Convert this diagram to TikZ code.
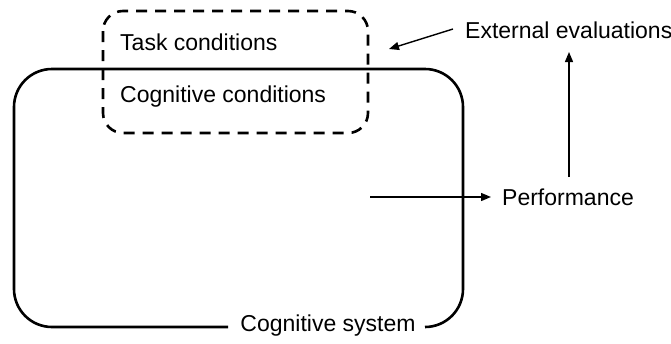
\documentclass[tikz,border=0pt]{standalone}
\usepackage{fontspec}
\setmainfont{Liberation Sans}
\usetikzlibrary{arrows.meta}
\begin{document}
\begin{tikzpicture}[x=1pt,y=-1pt,
  lbl/.style={inner sep=0pt,font=\fontsize{23}{27}\selectfont},
  arr/.style={line width=1.4pt,-{Triangle[length=10pt,width=8pt]}},
  sysbox/.style={line width=2.6pt,rounded corners=38pt},
  condbox/.style={line width=2.6pt,rounded corners=20pt,dash pattern=on 11pt off 8pt}]
\useasboundingbox (0,0) rectangle (671,343);
\draw[sysbox] (228,327) -- (14,327) -- (14,69) -- (463,69) -- (463,327) -- (425,327);
\draw[condbox] (103,11) rectangle (368,133);
\node[lbl,anchor=west] (task) at (120,42) {Task conditions};
\node[lbl,anchor=west] (cogc) at (120,97) {Cognitive conditions};
\node[lbl,anchor=west] (ext) at (465,30) {External evaluations};
\node[lbl,anchor=west] (perf) at (502,197) {Performance};
\node[lbl] (sys) at (328,326) {Cognitive system};
\coordinate (a1s) at (453,29);
\coordinate (a1e) at (389,49);
\coordinate (a2s) at (370,197);
\coordinate (a2e) at (491,197);
\coordinate (a3s) at (569,177);
\coordinate (a3e) at (569,52);
\draw[arr] (a1s) -- (a1e);
\draw[arr] (a2s) -- (a2e);
\draw[arr] (a3s) -- (a3e);
\end{tikzpicture}
\end{document}
